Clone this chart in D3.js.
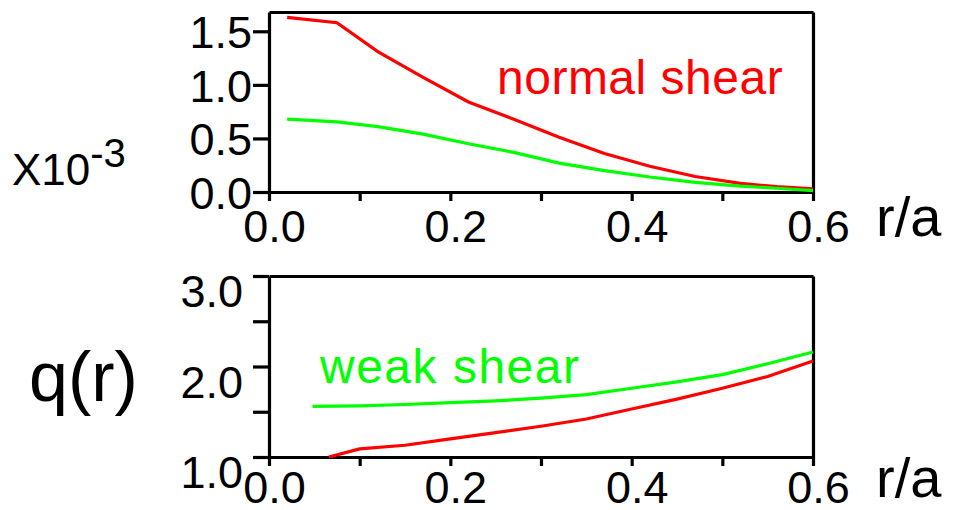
<!DOCTYPE html>
<html>
<head>
<meta charset="utf-8">
<script src="https://cdn.jsdelivr.net/npm/d3@7"></script>
<style>
  body { margin: 0; background: #fff; }
  svg { font-family: "Liberation Sans", Arial, sans-serif; }
  .axis path, .axis line { stroke: #000; stroke-width: 3.2; }
  .axis text { fill: #000; font-size: 45px; }
</style>
</head>
<body>
<div id="chart"></div>
<script>
// x positions (r/a)
var rTop = [0.02, 0.075, 0.12, 0.17, 0.22, 0.27, 0.32, 0.37, 0.42, 0.47, 0.52, 0.56, 0.6];
var topNormal = [1.63, 1.58, 1.31, 1.07, 0.84, 0.68, 0.51, 0.36, 0.24, 0.145, 0.08, 0.05, 0.03];
var topWeak = [0.68, 0.655, 0.61, 0.54, 0.45, 0.37, 0.27, 0.2, 0.14, 0.09, 0.055, 0.035, 0.012];

var rNormalQ = [0.066, 0.1, 0.15, 0.2, 0.25, 0.3, 0.35, 0.4, 0.45, 0.5, 0.55, 0.6];
var qNormal = [1.0, 1.09, 1.13, 1.2, 1.27, 1.34, 1.42, 1.53, 1.64, 1.76, 1.89, 2.06];
var rWeakQ = [0.048, 0.1, 0.15, 0.2, 0.25, 0.3, 0.35, 0.4, 0.45, 0.5, 0.55, 0.6];
var qWeak = [1.56, 1.565, 1.58, 1.6, 1.62, 1.65, 1.69, 1.76, 1.83, 1.91, 2.03, 2.16];

var xTicks = [0, 0.1, 0.2, 0.3, 0.4, 0.5, 0.6];
var xLabels = [0, 0.2, 0.4, 0.6];
var topYTicks = [0, 0.5, 1.0, 1.5];
var botYTicks = [1.0, 1.5, 2.0, 2.5, 3.0];
var botYLabels = [1.0, 2.0, 3.0];

var svg = d3.select("#chart")
  .append("svg")
  .attr("width", 953)
  .attr("height", 510);

var x = d3.scaleLinear().domain([0, 0.6]).range([269, 813]);
var yTop = d3.scaleLinear().domain([0, 1.68]).range([192, 12]);
var yBot = d3.scaleLinear().domain([1, 3]).range([457, 276]);

var fmt = function(d) { return xLabels.some(function(v) { return Math.abs(v - d) < 1e-9; }) ? d3.format(".1f")(d) : ""; };

// ---- top panel ----
svg.append("g").attr("class", "axis")
  .attr("transform", "translate(0,12)")
  .call(d3.axisTop(x).tickValues([]).tickSizeOuter(0));
svg.append("g").attr("class", "axis")
  .attr("transform", "translate(813,0)")
  .call(d3.axisRight(yTop).tickValues([]).tickSizeOuter(0));

svg.append("g").attr("class", "axis")
  .attr("transform", "translate(0,192)")
  .call(d3.axisBottom(x).tickValues(xTicks).tickFormat(fmt).tickSize(9).tickSizeOuter(0).tickPadding(9))
  .selectAll("text").attr("dx", 5);

svg.append("g").attr("class", "axis")
  .attr("transform", "translate(269,0)")
  .call(d3.axisLeft(yTop).tickValues(topYTicks).tickFormat(d3.format(".1f")).tickSize(16).tickSizeOuter(0).tickPadding(1))
  .selectAll("text").attr("dy", "0.36em");

var lineTop = d3.line()
  .x(function(d) { return x(d[0]); })
  .y(function(d) { return yTop(d[1]); });

svg.append("path")
  .datum(d3.zip(rTop, topNormal))
  .attr("fill", "none").attr("stroke", "#ff0000").attr("stroke-width", 3.2)
  .attr("d", lineTop);
svg.append("path")
  .datum(d3.zip(rTop, topWeak))
  .attr("fill", "none").attr("stroke", "#00ff00").attr("stroke-width", 3.2)
  .attr("d", lineTop);

// ---- bottom panel ----
svg.append("g").attr("class", "axis")
  .attr("transform", "translate(0,276)")
  .call(d3.axisTop(x).tickValues([]).tickSizeOuter(0));
svg.append("g").attr("class", "axis")
  .attr("transform", "translate(813,0)")
  .call(d3.axisRight(yBot).tickValues([]).tickSizeOuter(0));

svg.append("g").attr("class", "axis")
  .attr("transform", "translate(0,457)")
  .call(d3.axisBottom(x).tickValues(xTicks).tickFormat(fmt).tickSize(9).tickSizeOuter(0).tickPadding(5))
  .selectAll("text").attr("dx", 5);

svg.append("g").attr("class", "axis")
  .attr("transform", "translate(269,0)")
  .call(d3.axisLeft(yBot).tickValues(botYTicks)
    .tickFormat(function(d) { return botYLabels.indexOf(d) >= 0 ? d3.format(".1f")(d) : ""; })
    .tickSize(16).tickSizeOuter(0).tickPadding(10))
  .selectAll("text").attr("dy", "0.68em");

var lineBot = d3.line()
  .x(function(d) { return x(d[0]); })
  .y(function(d) { return yBot(d[1]); });

svg.append("path")
  .datum(d3.zip(rNormalQ, qNormal))
  .attr("fill", "none").attr("stroke", "#ff0000").attr("stroke-width", 3.2)
  .attr("d", lineBot);
svg.append("path")
  .datum(d3.zip(rWeakQ, qWeak))
  .attr("fill", "none").attr("stroke", "#00ff00").attr("stroke-width", 3.2)
  .attr("d", lineBot);

// ---- labels ----
svg.append("text").attr("x", 497).attr("y", 94)
  .attr("fill", "#ff0000").style("font-size", "48px").style("letter-spacing", "0.5px")
  .text("normal shear");
svg.append("text").attr("x", 320).attr("y", 383)
  .attr("fill", "#00ff00").style("font-size", "48px").style("letter-spacing", "1.5px")
  .text("weak shear");

svg.append("text").attr("x", 876).attr("y", 236)
  .style("font-size", "56px").text("r/a");
svg.append("text").attr("x", 876).attr("y", 497)
  .style("font-size", "56px").text("r/a");

svg.append("text").attr("x", 29).attr("y", 401)
  .style("font-size", "70px").text("q(r)");

var sci = svg.append("text").attr("x", 12).attr("y", 185).style("font-size", "44px");
sci.append("tspan").text("X10");
sci.append("tspan").attr("dy", -18).style("font-size", "40px").text("-3");
</script>
</body>
</html>
